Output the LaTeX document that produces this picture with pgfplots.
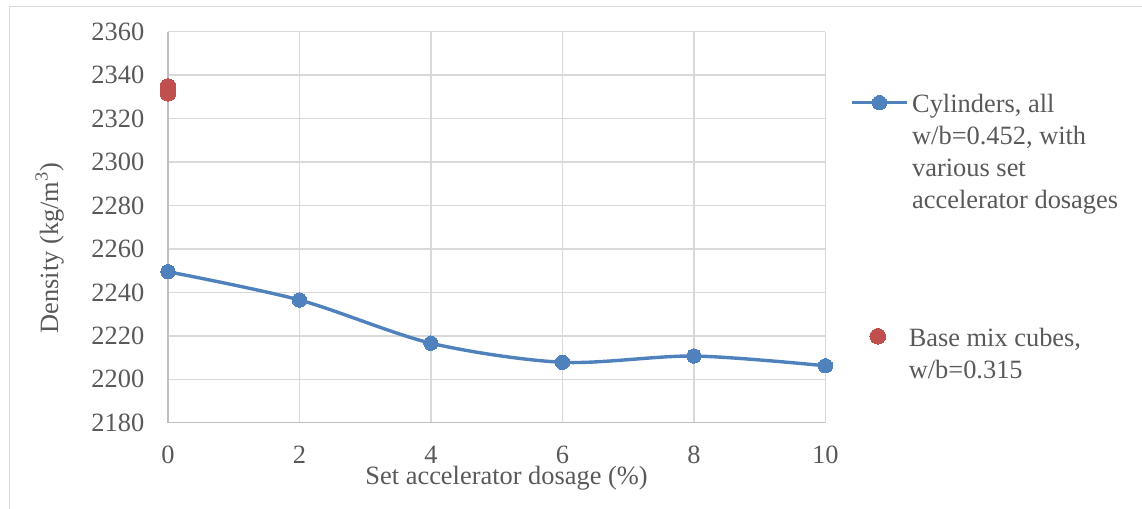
\documentclass[border=0pt]{standalone}
\usepackage{pgfplots}
\pgfplotsset{compat=1.18}
\usepackage{fontspec}
\setmainfont{Liberation Serif}
\definecolor{textgray}{HTML}{595959}
\definecolor{gridgray}{HTML}{D9D9D9}
\definecolor{axisgray}{HTML}{BFBFBF}
\definecolor{sblue}{HTML}{4F81BD}
\definecolor{sred}{HTML}{C0504D}
\pgfplotsset{
  common/.style={
    at={(0,0)}, anchor=south west,
    scale only axis, width=328.7bp, height=195.5bp,
    xmin=0, xmax=10, ymin=2180, ymax=2360,
    clip=false,
    legend style={anchor=north west, draw=none, fill=none, inner sep=0pt, outer sep=0pt,
      column sep=0bp, cells={anchor=base west, inner sep=0pt},
      font=\fontsize{13.2bp}{16bp}\selectfont\color{textgray}},
  }
}
\begin{document}
\begin{tikzpicture}
\useasboundingbox (-84bp,-43.15bp) rectangle (487bp,211.35bp);
\draw[gridgray, line width=0.75bp] (-79.25bp,-43.15bp) -- (-79.25bp,208.1bp) -- (487bp,208.1bp);
\begin{axis}[
  common,
  xtick={0,2,4,6,8,10}, ytick={2180,2200,...,2360},
  grid=major, major grid style={draw=gridgray, line width=0.75bp},
  axis lines*=left, axis line style={draw=axisgray, line width=0.75bp, -},
  major tick length=0pt, tick style={draw=none},
  font=\fontsize{13.2bp}{15.5bp}\selectfont\color{textgray},
  /pgf/number format/assume math mode=true,
  /pgf/number format/1000 sep={},
  yticklabel style={anchor=east, inner sep=0pt, xshift=-11.65bp, text=textgray},
  xticklabel style={anchor=north, inner sep=0pt, yshift=-11.65bp, text=textgray},
  xlabel={Set accelerator dosage (\%)},
  ylabel={Density (kg/m\textsuperscript{3})},
  every axis x label/.style={at={(axis description cs:0.515,-0.1593)}, anchor=base, text=textgray, inner sep=0pt},
  every axis y label/.style={at={(axis description cs:-0.1673,0.4468)}, rotate=90, anchor=base, text=textgray, inner sep=0pt},
  legend image code/.code={\draw[mark repeat=2, mark phase=2, #1] plot coordinates {(0bp,5bp) (13.5bp,5bp) (27bp,5bp)};},
  legend style={at={(1.0386,0.85)}},
]
\addplot[sblue, line width=1.7bp, smooth, mark=*, mark size=3.6bp, mark options={fill=sblue, draw=sblue, line width=0pt}]
  coordinates {(0,2249.5) (2,2236.5) (4,2216.6) (6,2207.8) (8,2210.7) (10,2206.2)};
\addlegendentry{\parbox[t]{125bp}{\raggedright Cylinders, all\\ w/b=0.452, with\\ various set\\ accelerator dosages}}
\end{axis}
\begin{axis}[
  common, hide axis,
  legend image code/.code={\path[draw=none, fill=none] (0bp,5bp) -- (27bp,5bp);\draw[mark repeat=2, mark phase=2, #1] plot coordinates {(0bp,5bp) (13.5bp,5bp) (27bp,5bp)};},
  legend style={at={(1.0386,0.2524)}},
]
\addplot[only marks, mark=*, mark size=3.9bp, mark options={fill=sred, draw=sred, line width=0pt}]
  coordinates {(0,2331.6) (0,2334.8)};
\addlegendentry{\parbox[t]{125bp}{\raggedright Base mix cubes,\\ w/b=0.315}}
\end{axis}
\end{tikzpicture}
\end{document}
